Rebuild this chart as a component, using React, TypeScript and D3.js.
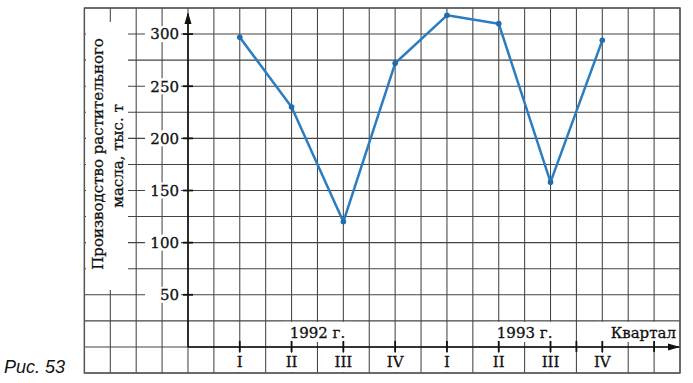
import React from "react";
import * as d3 from "d3";

const quarters = ["I", "II", "III", "IV", "I", "II", "III", "IV"];
const values = [297, 230, 120, 272, 318, 310, 158, 294];
const years = ["1992 г.", "1993 г."];
const yTicks = [50, 100, 150, 200, 250, 300];
const yLabelLines = ["Производство растительного", "масла, тыс. т"];
const xAxisTitle = "Квартал";
const caption = "Рис. 53";

const W = 693;
const H = 383;
const FONT = "'DejaVu Serif', serif";
const FS = 15;

export default function App() {
  // quarter index scale: q=-1 is the origin, quarters at 0..7
  const x = d3.scaleLinear().domain([-3, 8.5]).range([84.4, 680]);
  const y = d3.scaleLinear().domain([-25, 325]).range([373, 8]);

  const vGrid = d3.range(-3, 8.5001, 0.5);
  const hGrid = d3.range(-25, 325.001, 25);

  const line = d3
    .line<number>()
    .x((_, i) => x(i))
    .y((d) => y(d));

  const gridColor = "#444";
  const x0 = x(-1);
  const y0 = y(0);
  const textProps = {
    fontFamily: FONT,
    fontSize: FS,
    fill: "#111",
    stroke: "#111",
    strokeWidth: 0.3,
  };

  return (
    <svg
      width={W}
      height={H}
      style={{ position: "absolute", left: 0, top: 0, background: "#fff" }}
    >
      <rect x={0} y={0} width={W} height={H} fill="#fff" />
      {/* grid */}
      <g stroke={gridColor} strokeWidth={1.05}>
        {vGrid.map((q) => (
          <line key={"v" + q} x1={x(q)} x2={x(q)} y1={y(325)} y2={y(-25)} />
        ))}
        {hGrid.map((v) => (
          <line key={"h" + v} x1={x(-3)} x2={x(8.5)} y1={y(v)} y2={y(v)} />
        ))}
      </g>
      <rect
        x={x(-3)}
        y={y(325)}
        width={x(8.5) - x(-3)}
        height={y(-25) - y(325)}
        fill="none"
        stroke="#555"
        strokeWidth={1.4}
      />

      {/* white backgrounds for labels */}
      <rect x={86} y={22} width={42} height={268} fill="#fff" />
      {yTicks.map((t) => (
        <rect key={"yb" + t} x={145} y={y(t) - 8} width={36} height={16} fill="#fff" />
      ))}
      {years.map((yr, i) => {
        const cx = (x(i * 4 + 1) + x(i * 4 + 2)) / 2;
        return (
          <rect key={"ybx" + i} x={cx - 35} y={y(25) + 1} width={70} height={y(0) - y(25) - 6} fill="#fff" />
        );
      })}
      <rect x={597} y={y(25) + 1} width={x(8.5) - 598} height={y(0) - y(25) - 6} fill="#fff" />
      {quarters.map((qn, i) => (
        <rect key={"qb" + i} x={x(i) - 11} y={y(0) + 6} width={22} height={y(-25) - y(0) - 7} fill="#fff" />
      ))}

      {/* axes */}
      <g stroke="#111" strokeWidth={1.6}>
        <line x1={x0} x2={x0} y1={y0} y2={14} />
        <line x1={x0} x2={x(8.5) - 1} y1={y0} y2={y0} />
        {yTicks.map((t) => (
          <line key={"yt" + t} x1={x0 - 5} x2={x0 + 5} y1={y(t)} y2={y(t)} strokeWidth={1.8} />
        ))}
        {[...quarters.map((_, i) => i), 6.5, 8].map((q) => (
          <line key={"xt" + q} x1={x(q)} x2={x(q)} y1={y0 - 6} y2={y0 + 5} strokeWidth={1.8} />
        ))}
      </g>
      <path d={`M${x0},12 L${x0 - 3.5},24 L${x0 + 3.5},24 Z`} fill="#111" />
      <path d={`M${x(8.5)},${y0} L${x(8.5) - 12},${y0 - 3.5} L${x(8.5) - 12},${y0 + 3.5} Z`} fill="#111" />

      {/* y tick labels */}
      {yTicks.map((t) => (
        <text key={"yl" + t} x={179} y={y(t)} dy="0.36em" textAnchor="end" {...textProps}>
          {t}
        </text>
      ))}

      {/* y axis title */}
      <text transform={`translate(103,154) rotate(-90)`} textAnchor="middle" {...textProps}>
        {yLabelLines[0]}
      </text>
      <text transform={`translate(122.5,156) rotate(-90)`} textAnchor="middle" {...textProps}>
        {yLabelLines[1]}
      </text>

      {/* quarter labels */}
      {quarters.map((qn, i) => (
        <text key={"ql" + i} x={x(i)} y={367} textAnchor="middle" {...textProps}>
          {qn}
        </text>
      ))}

      {/* year labels */}
      {years.map((yr, i) => (
        <text
          key={"yr" + i}
          x={(x(i * 4 + 1) + x(i * 4 + 2)) / 2}
          y={337.5}
          textAnchor="middle"
          {...textProps}
        >
          {yr}
        </text>
      ))}
      <text x={676} y={337.5} textAnchor="end" {...textProps}>
        {xAxisTitle}
      </text>

      {/* data line */}
      <path d={line(values) || ""} fill="none" stroke="#2a7dc1" strokeWidth={2.5} strokeLinejoin="round" />
      {values.map((v, i) => (
        <circle key={"p" + i} cx={x(i)} cy={y(v)} r={2.8} fill="#1f6db0" />
      ))}

      {/* caption */}
      <text
        x={4}
        y={373}
        fontFamily="'Liberation Sans', Arial, sans-serif"
        fontStyle="italic"
        fontSize={18}
        fill="#111"
      >
        {caption}
      </text>
    </svg>
  );
}
